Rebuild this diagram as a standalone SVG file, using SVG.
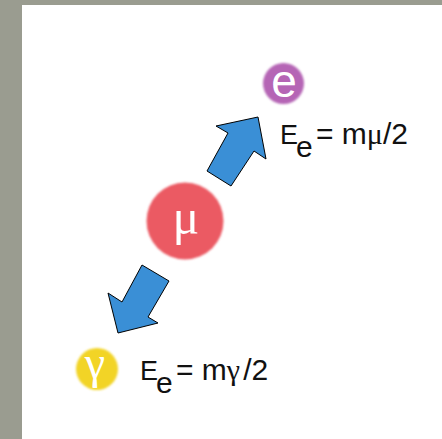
<svg xmlns="http://www.w3.org/2000/svg" width="442" height="439" viewBox="0 0 442 439">
<defs>
<style>
.lbl{font-family:"Liberation Sans",Arial,sans-serif;font-size:30px;fill:#111}
.big{font-size:27px}
.sub{font-size:30px}
.gk{font-family:"Liberation Serif","Times New Roman",serif}
.cl{fill:#fff;text-anchor:middle}
.arrow{fill:#3a8fd6;stroke:#000;stroke-width:1;stroke-linejoin:miter}
</style>
<filter id="soft" x="-20%" y="-20%" width="140%" height="140%"><feGaussianBlur stdDeviation="1.3"/></filter>
</defs>
<rect width="442" height="439" fill="#9a9c90"/>
<rect x="22" y="5" width="420" height="434" fill="#fff"/>
<g id="connectors">
<polygon class="arrow" points="258,117 216,126 228,133 207,171 231,186 254,151 266,159"/>
<polygon class="arrow" points="142,265 169,281 148,317 158,323 118,333 108,293 122,302"/>
</g>
<g id="electron">
<circle cx="283.5" cy="83.5" r="20.5" fill="#b565b5" filter="url(#soft)"/>
<text x="284" y="97" class="cl" style="font-family:'Liberation Sans',Arial,sans-serif;font-size:46px">e</text>
</g>
<g id="muon">
<circle cx="185" cy="221" r="38.5" fill="#eb5a63" filter="url(#soft)"/>
<text x="186" y="234" class="cl gk" style="font-size:50px">μ</text>
</g>
<g id="photon">
<circle cx="97" cy="369" r="21" fill="#f2d426" filter="url(#soft)"/>
<text x="95" y="378" class="cl gk" style="font-size:46px">γ</text>
</g>
<g id="label-electron">
<text class="lbl"><tspan class="big" x="280" y="144">E</tspan><tspan class="sub" x="296" y="157">e</tspan><tspan x="316" y="144">= m</tspan><tspan class="gk">μ</tspan><tspan>/2</tspan></text>
</g>
<g id="label-photon">
<text class="lbl"><tspan class="big" x="140" y="380">E</tspan><tspan class="sub" x="156" y="393">e</tspan><tspan x="176" y="380">= m</tspan><tspan class="gk">γ</tspan><tspan dx="3">/2</tspan></text>
</g>
</svg>
